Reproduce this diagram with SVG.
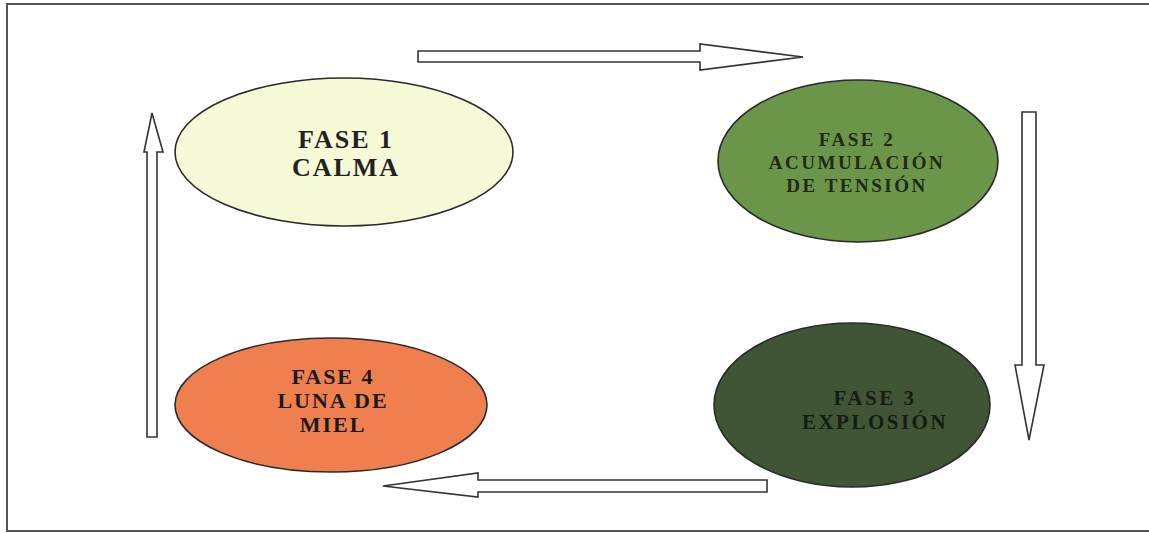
<svg xmlns="http://www.w3.org/2000/svg" width="1149" height="533" viewBox="0 0 1149 533">
<style>
.frame{fill:#fff;stroke:#555;stroke-width:2}
.node{stroke:#2a2a2a;stroke-width:1.6}
.arrow{fill:#fff;stroke:#333;stroke-width:1.6;stroke-linejoin:miter}
.lbl{font-family:"Liberation Serif","Times New Roman",serif;font-weight:bold;text-anchor:middle}
</style>
<rect class="frame" x="7" y="4" width="1150" height="527"/>
<g id="connectors">
<polygon class="arrow" points="418,51 700,51 700,44 803,57 700,70 700,62 418,62"/>
<polygon class="arrow" points="1022,112 1036,112 1036,365 1044,365 1029,440 1015,365 1022,365"/>
<polygon class="arrow" points="767,480 478,480 478,473 383,486 478,497 478,492 767,492"/>
<polygon class="arrow" points="147,437 157,437 157,152 163,152 152,113 144,152 147,152"/>
</g>
<g id="fase1">
<ellipse class="node" cx="344" cy="152" rx="169" ry="74" fill="#f6fad7"/>
<text class="lbl" font-size="26" letter-spacing="2" fill="#222" x="346" y="148">FASE 1</text>
<text class="lbl" font-size="26" letter-spacing="2" fill="#222" x="346" y="176">CALMA</text>
</g>
<g id="fase2">
<ellipse class="node" cx="858" cy="161" rx="140" ry="81" fill="#6b9649"/>
<text class="lbl" font-size="19" letter-spacing="2.5" fill="#1f2a16" x="857" y="146">FASE 2</text>
<text class="lbl" font-size="19" letter-spacing="2.5" fill="#1f2a16" x="857" y="169">ACUMULACIÓN</text>
<text class="lbl" font-size="19" letter-spacing="2.5" fill="#1f2a16" x="857" y="192">DE TENSIÓN</text>
</g>
<g id="fase3">
<ellipse class="node" cx="852" cy="405" rx="138" ry="82" fill="#3f5535"/>
<text class="lbl" font-size="21" letter-spacing="2.5" fill="#161c12" x="875" y="405">FASE 3</text>
<text class="lbl" font-size="21" letter-spacing="2.5" fill="#161c12" x="875" y="429">EXPLOSIÓN</text>
</g>
<g id="fase4">
<ellipse class="node" cx="331" cy="405" rx="156" ry="67" fill="#ef7f4e"/>
<text class="lbl" font-size="22" letter-spacing="2" fill="#1a1a1a" x="333" y="384">FASE 4</text>
<text class="lbl" font-size="22" letter-spacing="2" fill="#1a1a1a" x="333" y="408">LUNA DE</text>
<text class="lbl" font-size="22" letter-spacing="2" fill="#1a1a1a" x="333" y="432">MIEL</text>
</g>
</svg>
